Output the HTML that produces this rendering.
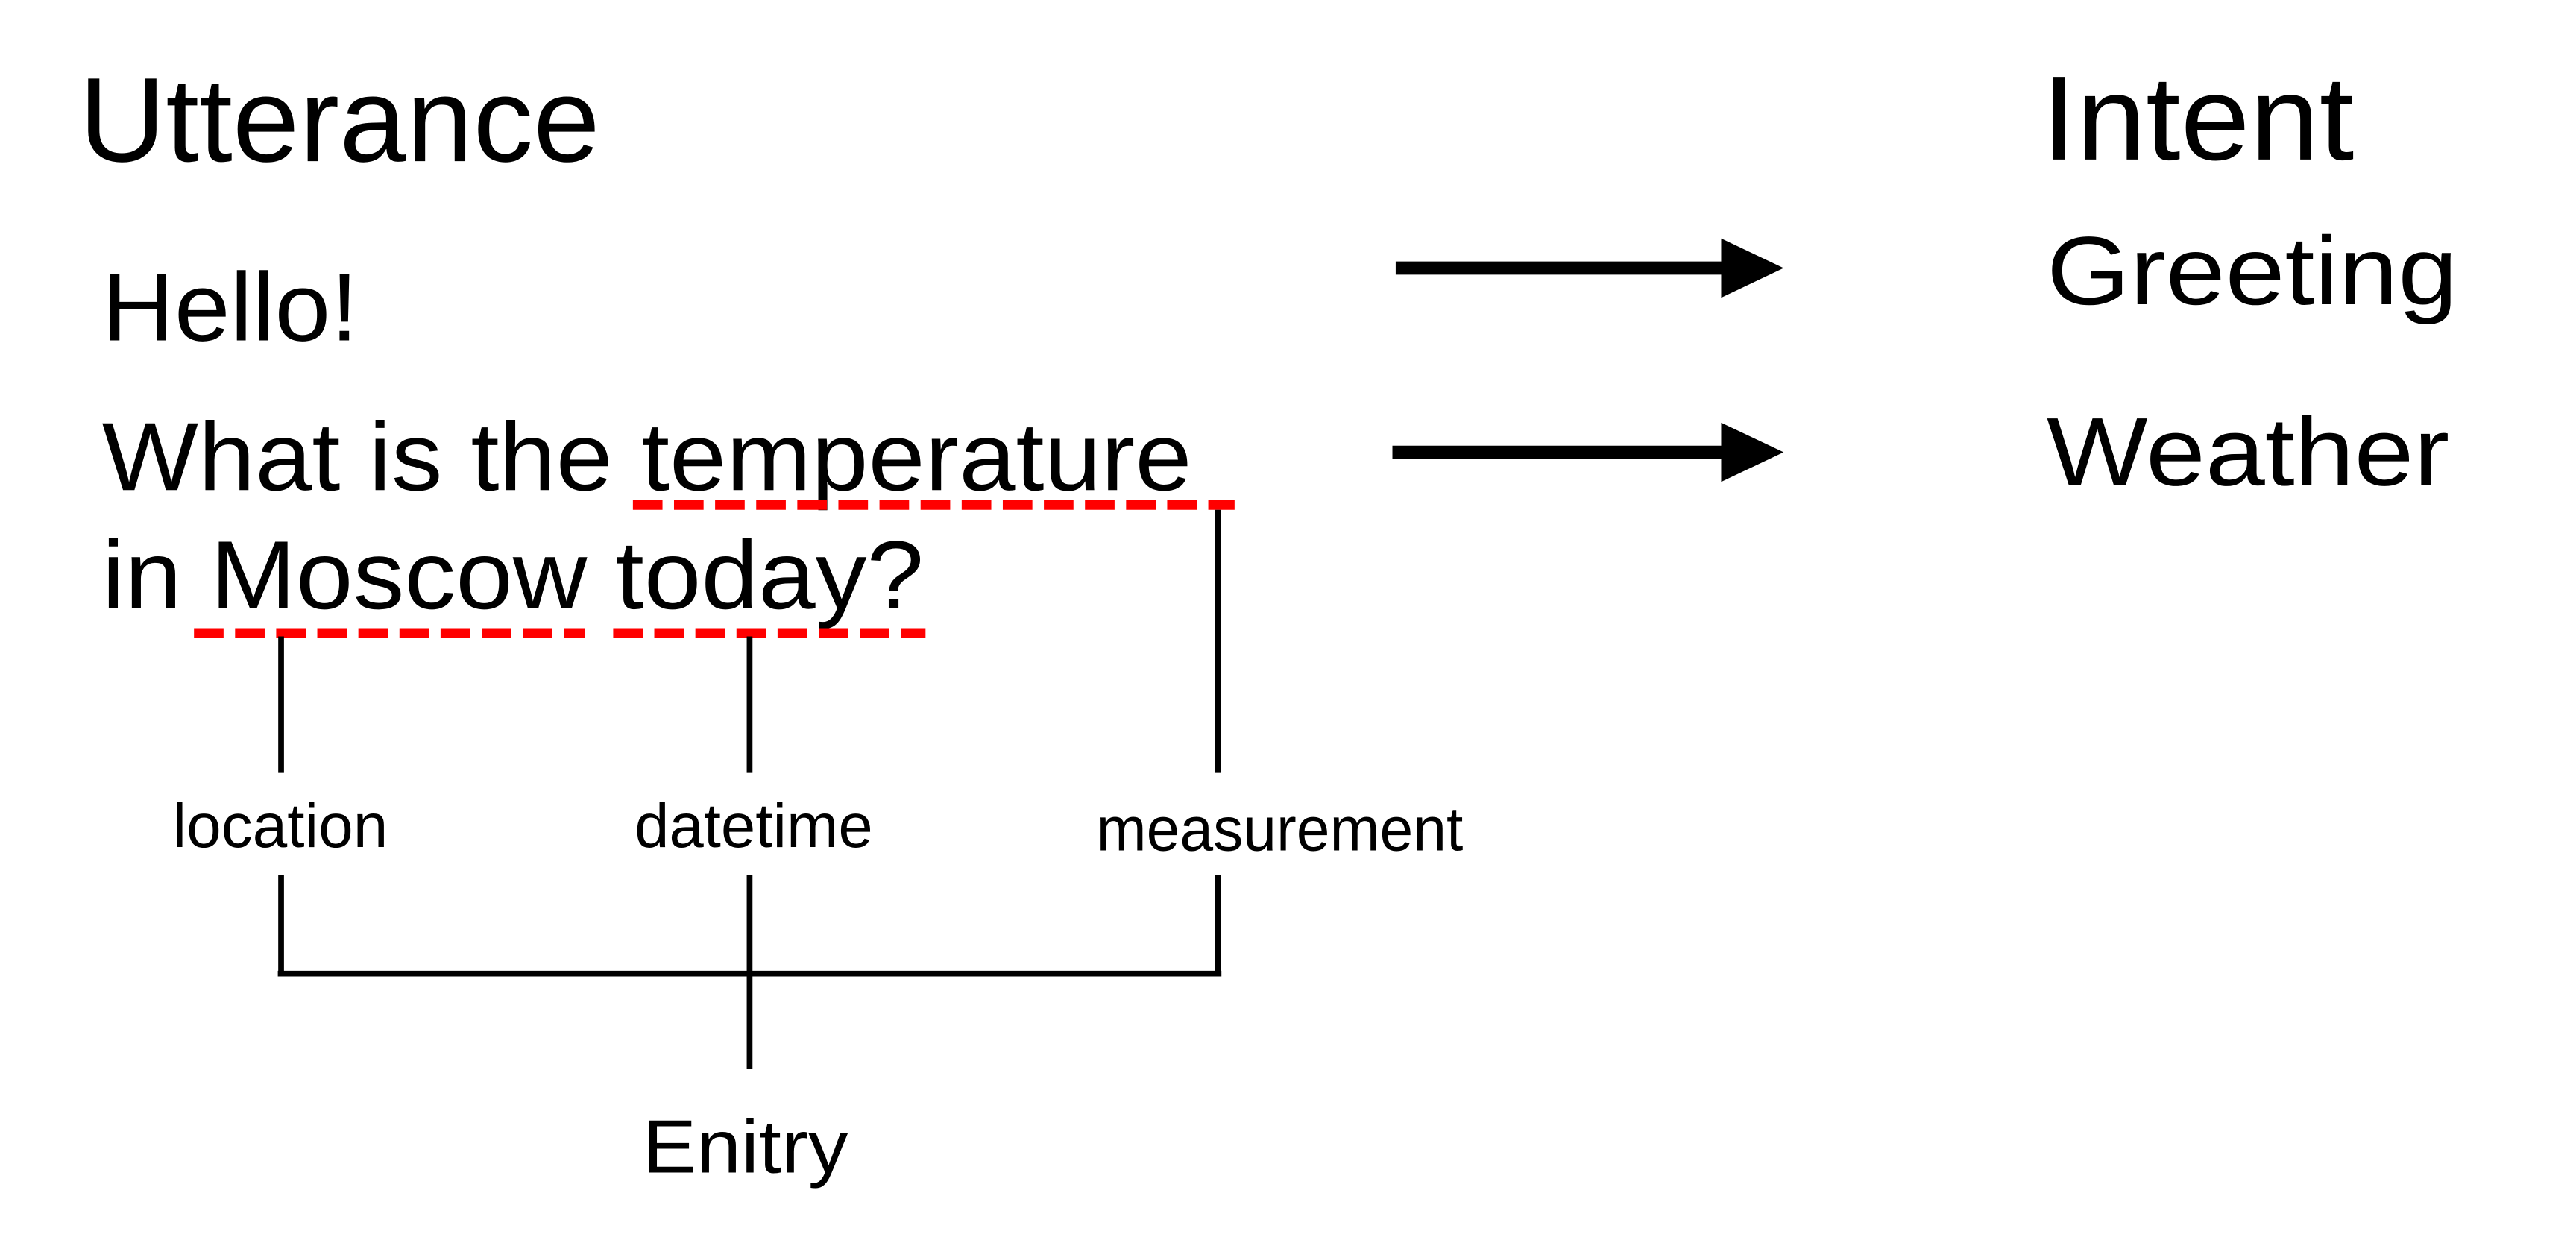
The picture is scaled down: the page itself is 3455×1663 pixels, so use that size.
<!DOCTYPE html>
<html><head><meta charset="utf-8"><style>
html,body{margin:0;padding:0;background:#fff;}
svg{display:block;}
text{font-family:"Liberation Sans",sans-serif;fill:#000;}
</style></head><body>
<svg width="3455" height="1663" viewBox="0 0 1567 754" preserveAspectRatio="none">
<text x="48" y="98" font-size="73" textLength="317" lengthAdjust="spacingAndGlyphs">Utterance</text>
<text x="1242" y="97" font-size="73" textLength="190" lengthAdjust="spacingAndGlyphs">Intent</text>
<text x="62" y="207" font-size="59" textLength="156" lengthAdjust="spacingAndGlyphs">Hello!</text>
<text x="62" y="298" font-size="59" textLength="663" lengthAdjust="spacingAndGlyphs">What is the temperature</text>
<text x="62" y="370" font-size="59" textLength="500" lengthAdjust="spacingAndGlyphs">in Moscow today?</text>
<text x="1245" y="185" font-size="59" textLength="250" lengthAdjust="spacingAndGlyphs">Greeting</text>
<text x="1245" y="295" font-size="59" textLength="245" lengthAdjust="spacingAndGlyphs">Weather</text>
<g>
<line x1="849" y1="163" x2="1050" y2="163" stroke="#000" stroke-width="8"/>
<polygon points="1047,145 1085,163 1047,181" fill="#000"/>
</g>
<g>
<line x1="847" y1="275" x2="1050" y2="275" stroke="#000" stroke-width="8"/>
<polygon points="1047,257 1085,275 1047,293" fill="#000"/>
</g>
<g stroke="red" stroke-width="6" stroke-dasharray="18,7" fill="none">
<line x1="385" y1="307" x2="751" y2="307"/>
<line x1="118" y1="385" x2="356" y2="385"/>
<line x1="373" y1="385" x2="563" y2="385"/>
</g>
<g stroke="#000" stroke-width="3.5" fill="none">
<line x1="171" y1="387" x2="171" y2="470"/>
<line x1="456" y1="387" x2="456" y2="470"/>
<line x1="741" y1="310" x2="741" y2="470"/>
<line x1="171" y1="532" x2="171" y2="592"/>
<line x1="456" y1="532" x2="456" y2="650"/>
<line x1="741" y1="532" x2="741" y2="592"/>
<line x1="169" y1="592" x2="743" y2="592"/>
</g>
<text x="105" y="515" font-size="38" textLength="131" lengthAdjust="spacingAndGlyphs">location</text>
<text x="386" y="515" font-size="38" textLength="145" lengthAdjust="spacingAndGlyphs">datetime</text>
<text x="667" y="517" font-size="38" textLength="223" lengthAdjust="spacingAndGlyphs">measurement</text>
<text x="391" y="713" font-size="46" textLength="125" lengthAdjust="spacingAndGlyphs">Enitry</text>
</svg>
</body></html>
